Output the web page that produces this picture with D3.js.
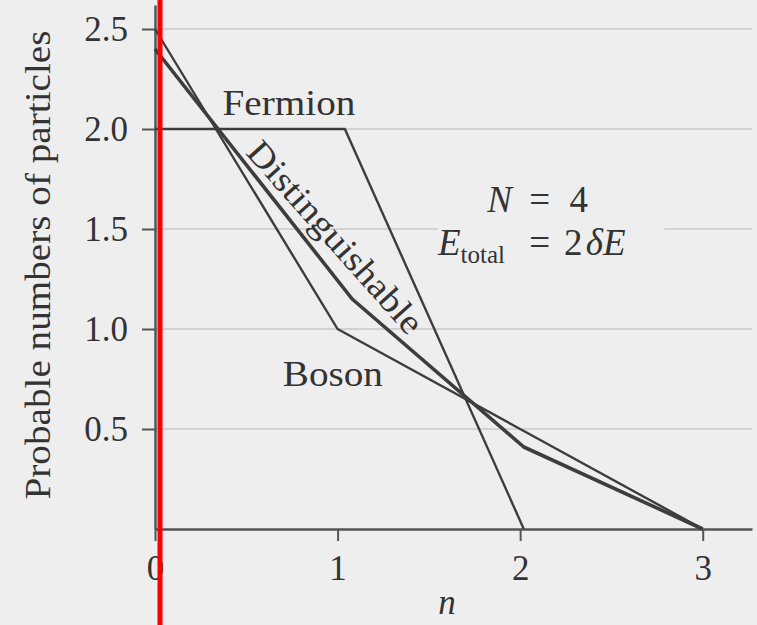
<!DOCTYPE html>
<html>
<head>
<meta charset="utf-8">
<script src="https://cdn.jsdelivr.net/npm/d3@7"></script>
<style>
	body { margin: 0; background: #eeeeee; }
	text { font-family: "Liberation Serif", "DejaVu Serif", serif; fill: #333; }
</style>
</head>
<body>
<div id="chart"></div>
<script>
// Values
const xTicks = [0, 1, 2, 3];
const yTicks = [0.5, 1.0, 1.5, 2.0, 2.5];
const fermionN = [0, 1.04, 2.02];
const fermionCount = [2.0, 2.0, 0];
const bosonN = [0, 1.0, 2.0, 3.0];
const bosonCount = [2.5, 1.0, 0.5, 0];
const distN = [0, 1.08, 2.02, 3.0];
const distCount = [2.4, 1.15, 0.41, 0];

const width = 757;
const height = 625;
const stretch = 1.12; // type in the scan is a bit wide

const svg = d3
	.select("#chart")
	.append("svg")
	.attr("width", width)
	.attr("height", height);

svg.append("rect").attr("width", width).attr("height", height).attr("fill", "#eeeeee");

// Scales
const x = d3.scaleLinear().domain([0, 3.27]).range([155, 752]);
const y = d3.scaleLinear().domain([0, 2.62]).range([529, 5]);

// Gridlines
svg
	.append("g")
	.selectAll("line")
	.data(yTicks)
	.enter()
	.append("line")
	.attr("x1", x(0))
	.attr("x2", x(3.27))
	.attr("y1", (d) => y(d))
	.attr("y2", (d) => y(d))
	.attr("stroke", "#c9c9c9")
	.attr("stroke-width", 1.6);

// Gap in the 1.5 gridline behind the N / E_total note
svg
	.append("rect")
	.attr("x", x(1.55))
	.attr("y", y(1.5) - 8)
	.attr("width", x(2.79) - x(1.55))
	.attr("height", 16)
	.attr("fill", "#eeeeee");

// Axes
const yAxis = d3.axisLeft(y).tickValues(yTicks).tickFormat(d3.format(".1f")).tickSize(13).tickPadding(14).tickSizeOuter(0);
const xAxis = d3.axisBottom(x).tickValues(xTicks).tickFormat(d3.format("d")).tickSize(12).tickPadding(14).tickSizeOuter(0);

const gy = svg.append("g").attr("transform", "translate(" + x(0) + ",0)").call(yAxis);
const gx = svg.append("g").attr("transform", "translate(0," + y(0) + ")").call(xAxis);

[gx, gy].forEach((g) => {
	g.select(".domain").attr("stroke", "#555").attr("stroke-width", 2.5);
	g.selectAll(".tick line").attr("stroke", "#555").attr("stroke-width", 2);
	g.selectAll(".tick text")
		.attr("fill", "#3a3a3a")
		.style("font-family", '"Liberation Serif", serif')
		.style("font-size", "35px");
});

// Curves
const line = d3
	.line()
	.x((d) => x(d[0]))
	.y((d) => y(d[1]));

const series = [
	{ n: fermionN, v: fermionCount, w: 2.4 },
	{ n: bosonN, v: bosonCount, w: 2.4 },
	{ n: distN, v: distCount, w: 3.6 },
];

series.forEach((s) => {
	svg
		.append("path")
		.datum(d3.zip(s.n, s.v))
		.attr("d", line)
		.attr("fill", "none")
		.attr("stroke", "#3d3d3d")
		.attr("stroke-width", s.w)
		.attr("stroke-linejoin", "round");
});

// Curve labels
function label(txt, px, py, angle) {
	svg
		.append("text")
		.attr("transform", "translate(" + px + "," + py + ") rotate(" + (angle || 0) + ") scale(" + stretch + ",1)")
		.attr("text-anchor", angle ? "middle" : "start")
		.style("font-size", "35px")
		.text(txt);
}
label("Fermion", x(0.37), y(2.07));
label("Boson", x(0.7), y(0.715));
label("Distinguishable", x(0.94), y(1.42), 48.3);

// Y axis title
svg
	.append("text")
	.attr("transform", "translate(50," + y(1.32) + ") rotate(-90) scale(" + stretch + ",1)")
	.attr("text-anchor", "middle")
	.style("font-size", "35px")
	.text("Probable numbers of particles");

// X axis title (cut by the bottom edge in the scan; kept just inside here)
svg
	.append("text")
	.attr("x", x(1.6))
	.attr("y", 614)
	.attr("text-anchor", "middle")
	.style("font-size", "35px")
	.style("font-style", "italic")
	.text("n");

// Note: N = 4, E_total = 2 dE
const note1 = svg.append("text").attr("y", y(1.585)).style("font-size", "37px");
note1.append("tspan").attr("x", x(1.82)).style("font-style", "italic").text("N");
note1.append("tspan").attr("x", x(2.05)).text("=");
note1.append("tspan").attr("x", x(2.27)).text("4");

const note2 = svg.append("text").attr("y", y(1.37)).style("font-size", "37px");
note2.append("tspan").attr("x", x(1.55)).style("font-style", "italic").text("E");
note2.append("tspan").attr("dy", 8).style("font-size", "25px").text("total");
note2.append("tspan").attr("x", x(2.05)).attr("dy", -8).text("=");
note2.append("tspan").attr("x", x(2.24)).text("2");
note2.append("tspan").attr("x", x(2.36)).style("font-style", "italic").text("\u03b4E");

// Red marker line over the figure
svg
	.append("line")
	.attr("x1", 160)
	.attr("x2", 160)
	.attr("y1", 0)
	.attr("y2", height)
	.attr("stroke", "#ff0000")
	.attr("stroke-width", 5);
</script>
</body>
</html>
